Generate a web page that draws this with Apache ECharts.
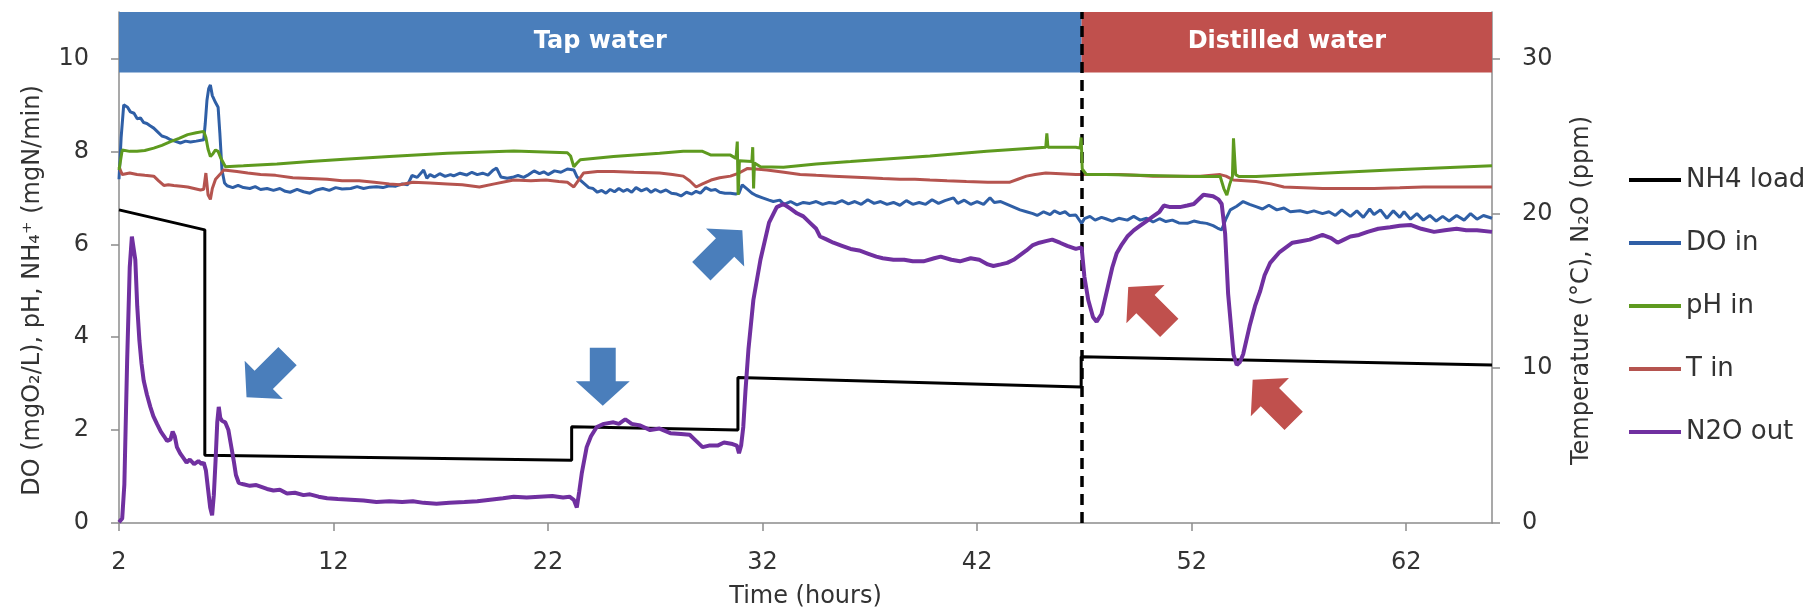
<!DOCTYPE html>
<html>
<head>
<meta charset="utf-8">
<script src="https://cdn.jsdelivr.net/npm/echarts@6/dist/echarts.min.js"></script>
<style>
html,body{margin:0;padding:0;background:#fff;}
#chart{width:1805px;height:611px;}
</style>
</head>
<body>
<div id="chart"></div>
<script>
// ---------- data ----------
const xTicks = [2, 12, 22, 32, 42, 52, 62];
const leftTicks = [0, 2, 4, 6, 8, 10];
const rightTicks = [0, 10, 20, 30];

const nh4Load = [[2,6.74],[6.0,6.31],[6.0,1.46],[23.1,1.35],[23.1,2.07],[30.85,2.0],[30.85,3.13],[46.85,2.93],[46.85,3.58],[66,3.40]];

const doIn = [[2.0,7.4],[2.1,8.3],[2.22,9.0],[2.4,8.95],[2.53,8.85],[2.7,8.82],[2.85,8.7],[3.0,8.72],[3.15,8.62],[3.3,8.6],[3.45,8.55],[3.62,8.5],[3.8,8.42],[4.0,8.33],[4.2,8.3],[4.4,8.25],[4.6,8.22],[4.86,8.18],[5.1,8.22],[5.33,8.2],[5.6,8.22],[5.95,8.25],[6.02,8.6],[6.1,9.1],[6.18,9.35],[6.26,9.43],[6.35,9.2],[6.5,9.05],[6.62,8.95],[6.7,8.4],[6.8,7.6],[6.92,7.32],[7.04,7.26],[7.3,7.22],[7.55,7.27],[7.8,7.22],[8.1,7.2],[8.35,7.24],[8.6,7.18],[8.9,7.2],[9.2,7.16],[9.5,7.2],[9.75,7.14],[9.98,7.12],[10.3,7.18],[10.6,7.13],[10.9,7.1],[11.2,7.17],[11.5,7.2],[11.8,7.16],[12.1,7.22],[12.4,7.19],[12.8,7.2],[13.1,7.24],[13.4,7.2],[13.7,7.23],[14.0,7.24],[14.3,7.22],[14.6,7.26],[14.9,7.25],[15.2,7.3],[15.45,7.28],[15.66,7.48],[15.9,7.44],[16.2,7.6],[16.35,7.42],[16.5,7.5],[16.7,7.45],[16.95,7.52],[17.2,7.46],[17.45,7.5],[17.6,7.47],[17.9,7.53],[18.2,7.49],[18.45,7.55],[18.7,7.5],[18.95,7.53],[19.2,7.49],[19.45,7.6],[19.6,7.64],[19.8,7.45],[20.1,7.42],[20.4,7.45],[20.6,7.48],[20.86,7.44],[21.1,7.5],[21.35,7.58],[21.6,7.52],[21.8,7.56],[22.0,7.5],[22.3,7.58],[22.6,7.55],[22.9,7.62],[23.2,7.6],[23.35,7.45],[23.5,7.38],[23.7,7.3],[23.9,7.22],[24.1,7.2],[24.3,7.12],[24.5,7.16],[24.7,7.1],[24.9,7.18],[25.1,7.13],[25.3,7.2],[25.5,7.14],[25.7,7.18],[25.9,7.12],[26.1,7.22],[26.35,7.15],[26.6,7.2],[26.8,7.12],[27.0,7.18],[27.25,7.12],[27.5,7.17],[27.75,7.1],[28.0,7.08],[28.2,7.04],[28.45,7.12],[28.7,7.08],[28.9,7.14],[29.1,7.1],[29.35,7.22],[29.6,7.16],[29.8,7.18],[30.0,7.12],[30.25,7.1],[30.5,7.1],[30.75,7.08],[30.9,7.1],[31.05,7.28],[31.3,7.18],[31.5,7.1],[31.7,7.05],[32.0,7.0],[32.3,6.95],[32.5,6.92],[32.8,6.95],[33.0,6.86],[33.3,6.92],[33.6,6.85],[33.9,6.9],[34.2,6.88],[34.5,6.92],[34.8,6.86],[35.1,6.9],[35.4,6.88],[35.7,6.94],[36.0,6.87],[36.3,6.92],[36.6,6.86],[36.9,6.96],[37.2,6.88],[37.5,6.92],[37.8,6.86],[38.1,6.9],[38.4,6.84],[38.7,6.94],[39.0,6.86],[39.3,6.9],[39.6,6.86],[39.9,6.96],[40.2,6.88],[40.5,6.94],[40.9,7.0],[41.1,6.88],[41.4,6.95],[41.7,6.86],[42.0,6.92],[42.3,6.86],[42.6,7.0],[42.8,6.9],[43.1,6.92],[43.4,6.86],[43.7,6.8],[44.0,6.74],[44.3,6.7],[44.6,6.66],[44.8,6.62],[45.1,6.7],[45.4,6.64],[45.6,6.72],[45.86,6.66],[46.1,6.7],[46.3,6.62],[46.6,6.63],[46.87,6.45],[47.0,6.55],[47.26,6.6],[47.5,6.52],[47.8,6.58],[48.0,6.55],[48.3,6.5],[48.6,6.56],[49.0,6.52],[49.3,6.6],[49.6,6.52],[49.9,6.56],[50.2,6.48],[50.5,6.55],[50.8,6.49],[51.1,6.52],[51.4,6.46],[51.8,6.45],[52.1,6.5],[52.4,6.47],[52.7,6.45],[53.0,6.4],[53.2,6.35],[53.4,6.31],[53.6,6.55],[53.8,6.74],[54.1,6.82],[54.4,6.92],[54.7,6.86],[55.0,6.81],[55.3,6.76],[55.6,6.84],[55.97,6.74],[56.3,6.78],[56.6,6.7],[57.05,6.72],[57.4,6.68],[57.7,6.72],[58.1,6.66],[58.4,6.7],[58.7,6.62],[59.0,6.74],[59.4,6.6],[59.7,6.72],[60.0,6.58],[60.3,6.76],[60.5,6.64],[60.8,6.74],[61.1,6.56],[61.4,6.72],[61.7,6.58],[61.9,6.7],[62.2,6.54],[62.5,6.66],[62.8,6.52],[63.1,6.62],[63.4,6.5],[63.7,6.6],[64.0,6.5],[64.35,6.62],[64.7,6.52],[65.0,6.66],[65.3,6.54],[65.6,6.62],[66.0,6.56]];

const phIn = [[2.0,7.6],[2.15,8.03],[2.5,8.0],[2.84,8.0],[3.2,8.02],[3.62,8.07],[4.0,8.13],[4.4,8.21],[4.8,8.28],[5.2,8.36],[5.6,8.4],[5.95,8.43],[6.05,8.3],[6.15,8.05],[6.26,7.89],[6.38,7.95],[6.5,8.03],[6.62,8.0],[6.75,7.85],[6.96,7.67],[7.8,7.69],[9.36,7.73],[10.9,7.78],[12.5,7.83],[14.6,7.89],[17.3,7.96],[20.4,8.01],[22.9,7.97],[23.05,7.9],[23.2,7.67],[23.35,7.75],[23.5,7.82],[25.05,7.89],[27.2,7.96],[28.3,8.0],[29.2,8.0],[29.6,7.92],[30.5,7.92],[30.76,7.85],[30.82,8.21],[30.86,7.06],[30.92,7.8],[31.5,7.78],[31.54,8.09],[31.58,7.2],[31.62,7.75],[31.9,7.67],[32.97,7.66],[34.5,7.73],[36.1,7.78],[37.6,7.83],[39.8,7.9],[42.45,8.0],[45.2,8.09],[45.25,8.39],[45.3,8.09],[46.6,8.09],[46.8,8.07],[46.85,8.3],[46.9,7.62],[47.1,7.5],[48.0,7.5],[50.0,7.48],[51.93,7.46],[53.33,7.46],[53.5,7.2],[53.64,7.06],[53.78,7.3],[53.9,7.46],[53.95,8.28],[54.05,7.5],[54.2,7.46],[55.0,7.46],[58.1,7.53],[61.25,7.6],[66.0,7.69]];

const tIn = [[2.0,23.0],[2.15,22.5],[2.5,22.6],[2.84,22.5],[3.2,22.45],[3.62,22.4],[3.85,22.1],[4.09,21.8],[4.3,21.85],[4.55,21.8],[4.9,21.75],[5.2,21.7],[5.5,21.6],[5.8,21.5],[5.95,21.55],[6.05,22.6],[6.15,21.2],[6.26,20.9],[6.35,21.6],[6.5,22.2],[6.7,22.5],[6.88,22.8],[7.5,22.7],[8.0,22.6],[8.6,22.5],[9.3,22.45],[10.1,22.3],[10.9,22.25],[11.7,22.2],[12.4,22.1],[13.2,22.1],[13.9,22.0],[14.6,21.9],[15.1,21.85],[15.7,22.0],[16.5,21.95],[17.3,21.9],[18.0,21.85],[18.8,21.7],[19.5,21.9],[20.4,22.15],[21.2,22.1],[21.9,22.15],[22.5,22.05],[22.9,22.0],[23.2,21.7],[23.4,22.1],[23.65,22.6],[24.3,22.7],[25.05,22.7],[26.0,22.65],[27.2,22.6],[27.8,22.5],[28.3,22.4],[28.6,22.1],[28.9,21.7],[29.2,21.9],[29.6,22.15],[30.0,22.3],[30.5,22.4],[30.9,22.6],[31.3,22.9],[31.8,22.85],[32.2,22.8],[33.0,22.65],[33.75,22.5],[34.5,22.45],[35.3,22.4],[36.1,22.35],[36.9,22.3],[37.6,22.25],[38.4,22.2],[39.1,22.2],[39.8,22.15],[40.6,22.1],[41.5,22.05],[42.5,22.0],[43.5,22.0],[43.9,22.2],[44.3,22.4],[44.7,22.5],[45.2,22.6],[45.9,22.55],[46.6,22.5],[47.5,22.5],[48.6,22.5],[49.4,22.45],[50.2,22.4],[51.3,22.4],[52.4,22.4],[53.33,22.5],[53.6,22.4],[53.95,22.15],[55.0,22.05],[55.7,21.9],[56.3,21.7],[57.2,21.65],[58.1,21.6],[59.3,21.6],[60.5,21.6],[61.7,21.65],[62.8,21.7],[64.4,21.7],[66.0,21.7]];

const n2oOut = [[2.0,0.05],[2.15,0.3],[2.25,2.5],[2.38,10.5],[2.5,16.5],[2.6,18.5],[2.68,18.6],[2.76,17.0],[2.85,14.0],[2.95,11.8],[3.05,10.3],[3.15,9.2],[3.3,8.3],[3.46,7.5],[3.6,6.9],[3.77,6.4],[3.95,5.9],[4.1,5.6],[4.24,5.3],[4.4,5.4],[4.5,5.9],[4.6,5.6],[4.7,4.9],[4.85,4.5],[5.0,4.2],[5.15,3.9],[5.3,4.1],[5.5,3.8],[5.7,4.0],[5.85,3.8],[5.95,3.9],[6.05,3.4],[6.15,2.2],[6.25,1.0],[6.34,0.5],[6.42,1.8],[6.5,4.0],[6.58,6.5],[6.65,7.5],[6.72,6.8],[6.8,6.6],[6.95,6.5],[7.1,6.0],[7.2,5.2],[7.35,4.0],[7.45,3.1],[7.58,2.6],[7.8,2.5],[8.1,2.4],[8.4,2.45],[8.7,2.3],[8.9,2.2],[9.2,2.1],[9.5,2.15],[9.83,1.9],[10.2,1.95],[10.6,1.8],[10.9,1.85],[11.3,1.7],[11.7,1.6],[12.2,1.55],[12.8,1.5],[13.4,1.45],[14.0,1.35],[14.6,1.4],[15.2,1.35],[15.7,1.4],[16.2,1.3],[16.8,1.25],[17.4,1.3],[18.1,1.35],[18.7,1.4],[19.3,1.5],[19.9,1.6],[20.4,1.7],[21.0,1.65],[21.6,1.7],[22.2,1.75],[22.7,1.65],[23.0,1.7],[23.2,1.5],[23.34,1.0],[23.45,2.0],[23.57,3.2],[23.8,4.9],[24.0,5.6],[24.27,6.2],[24.6,6.4],[25.05,6.5],[25.3,6.4],[25.6,6.7],[25.9,6.4],[26.3,6.3],[26.76,6.0],[27.2,6.1],[27.7,5.8],[28.2,5.75],[28.6,5.7],[28.9,5.3],[29.2,4.9],[29.5,5.0],[29.9,5.0],[30.2,5.2],[30.6,5.1],[30.8,5.0],[30.9,4.5],[31.0,5.0],[31.1,6.2],[31.2,8.5],[31.34,11.2],[31.57,14.4],[31.9,17.0],[32.3,19.4],[32.66,20.4],[32.97,20.6],[33.3,20.3],[33.6,20.0],[33.9,19.8],[34.2,19.4],[34.5,19.0],[34.68,18.5],[35.0,18.3],[35.3,18.1],[35.7,17.9],[36.1,17.7],[36.5,17.6],[36.9,17.4],[37.3,17.2],[37.6,17.1],[38.1,17.0],[38.6,17.0],[39.0,16.9],[39.5,16.9],[40.0,17.1],[40.3,17.2],[40.8,17.0],[41.2,16.9],[41.7,17.1],[42.1,17.0],[42.5,16.7],[42.76,16.6],[43.1,16.7],[43.4,16.8],[43.7,17.0],[44.0,17.3],[44.3,17.6],[44.6,17.95],[44.9,18.1],[45.2,18.2],[45.5,18.3],[45.86,18.1],[46.2,17.9],[46.6,17.7],[46.87,17.8],[47.0,15.9],[47.18,14.4],[47.4,13.3],[47.57,13.0],[47.8,13.5],[48.1,15.3],[48.3,16.5],[48.5,17.4],[48.75,18.0],[49.0,18.5],[49.3,18.9],[49.6,19.2],[49.9,19.5],[50.2,19.8],[50.5,20.1],[50.7,20.5],[51.0,20.4],[51.45,20.4],[51.8,20.5],[52.1,20.6],[52.55,21.2],[53.0,21.1],[53.25,20.9],[53.4,20.6],[53.56,18.7],[53.7,14.8],[53.95,10.9],[54.1,10.2],[54.25,10.4],[54.4,10.9],[54.7,12.7],[54.95,14.0],[55.2,15.0],[55.4,16.0],[55.66,16.8],[56.1,17.5],[56.4,17.8],[56.7,18.1],[57.1,18.2],[57.5,18.3],[58.1,18.6],[58.5,18.4],[58.8,18.1],[59.1,18.3],[59.4,18.5],[59.8,18.6],[60.2,18.8],[60.7,19.0],[61.25,19.1],[61.7,19.2],[62.2,19.25],[62.7,19.0],[63.3,18.8],[63.8,18.9],[64.35,19.0],[64.8,18.9],[65.3,18.9],[66.0,18.8]];

// phases (time span of each water type) and annotation arrows (data coords, left axis)
const phases = [
  {name: 'Tap water', from: 2, to: 46.87},
  {name: 'Distilled water', from: 46.87, to: 66}
];
const switchTime = 46.87;
const arrows = [
  {x: 8.9,  y: 3.15, dir: 'sw', kind: 'tap'},
  {x: 24.55, y: 3.15, dir: 's', kind: 'tap'},
  {x: 30.1, y: 5.86, dir: 'ne', kind: 'tap'},
  {x: 50.0, y: 4.64, dir: 'nw', kind: 'dist'},
  {x: 55.8, y: 2.64, dir: 'nw', kind: 'dist'}
];

// ---------- styles ----------
const FONT = 'DejaVu Sans';
const TEXT = '#333333';
const AXIS = '#8c8c8c';
const BLUE_BAND = '#4a7ebb';
const RED_BAND = '#c0504d';
const phaseColor = {'Tap water': BLUE_BAND, 'Distilled water': RED_BAND};
const kindColor = {tap: BLUE_BAND, dist: RED_BAND};
const rot = {s: 180, sw: 135, ne: -45, nw: 45};
const ARROW = 'path://M50,0 L100,42 L74,42 L74,100 L26,100 L26,42 L0,42 Z';

const chart = echarts.init(document.getElementById('chart'), null, {renderer: 'canvas'});

const option = {
  animation: false,
  backgroundColor: '#ffffff',
  textStyle: {fontFamily: FONT},
  grid: {left: 119, right: 313, top: 12, bottom: 88, containLabel: false, outerBoundsMode: 'none'},
  legend: {
    orient: 'vertical',
    left: 1624,
    top: 162,
    icon: 'rect',
    itemWidth: 52,
    itemHeight: 4,
    itemGap: 37,
    textStyle: {fontFamily: FONT, fontSize: 26, color: TEXT, lineHeight: 26},
    data: ['NH4 load', 'DO in', 'pH in', 'T in', 'N2O out']
  },
  xAxis: {
    type: 'value',
    min: 2, max: 66,
    name: 'Time (hours)',
    nameLocation: 'middle',
    nameGap: 62,
    nameTextStyle: {fontFamily: FONT, fontSize: 24, color: TEXT},
    axisLine: {show: true, onZero: false, lineStyle: {color: AXIS, width: 1.5}},
    axisTick: {show: true, length: 8, lineStyle: {color: AXIS, width: 1.5}, customValues: xTicks},
    axisLabel: {fontFamily: FONT, fontSize: 24, color: TEXT, margin: 28, customValues: xTicks},
    splitLine: {show: false}
  },
  yAxis: [
    {
      type: 'value', min: 0, max: 11, position: 'left',
      name: 'DO (mgO\u2082/L), pH, NH\u2084\u207A (mgN/min)',
      nameLocation: 'middle', nameGap: 74,
      nameTextStyle: {fontFamily: FONT, fontSize: 24, color: TEXT, padding: [0, 46, 0, 0]},
      axisLine: {show: true, lineStyle: {color: AXIS, width: 1.5}},
      axisTick: {show: true, length: 8, lineStyle: {color: AXIS, width: 1.5}, customValues: leftTicks},
      axisLabel: {fontFamily: FONT, fontSize: 24, color: TEXT, margin: 30, customValues: leftTicks},
      splitLine: {show: false}
    },
    {
      type: 'value', min: 0, max: 33, position: 'right',
      name: 'Temperature (\u00B0C), N\u2082O (ppm)',
      nameLocation: 'middle', nameGap: 78,
      nameTextStyle: {fontFamily: FONT, fontSize: 24, color: TEXT, padding: [0, 46, 0, 0]},
      axisLine: {show: true, lineStyle: {color: AXIS, width: 1.5}},
      axisTick: {show: true, length: 8, lineStyle: {color: AXIS, width: 1.5}, customValues: rightTicks},
      axisLabel: {fontFamily: FONT, fontSize: 24, color: TEXT, margin: 30, customValues: rightTicks},
      splitLine: {show: false}
    }
  ],
  series: [
    {
      name: 'NH4 load', type: 'line', yAxisIndex: 0, data: nh4Load,
      symbol: 'none', color: '#000000', lineStyle: {width: 3, color: '#000000'}, z: 3,
      markArea: {
        silent: true,
        label: {show: true, position: 'inside', color: '#ffffff', fontFamily: FONT, fontWeight: 'bold', fontSize: 24},
        data: phases.map(p => [
          {name: p.name, xAxis: p.from, yAxis: 9.7, itemStyle: {color: phaseColor[p.name]}},
          {xAxis: p.to, yAxis: 11}
        ])
      },
      markLine: {
        silent: true, symbol: ['none', 'none'], label: {show: false},
        lineStyle: {color: '#000000', width: 3.5, type: [11, 7]},
        data: [{xAxis: switchTime}]
      }
    },
    {
      name: 'DO in', type: 'line', yAxisIndex: 0, data: doIn,
      symbol: 'none', color: '#2f5fa6', lineStyle: {width: 3, color: '#2f5fa6'}, z: 4,
      markPoint: {
        silent: true, label: {show: false},
        data: arrows.map(a => ({
          coord: [a.x, a.y],
          symbol: ARROW,
          symbolSize: [54, 58],
          symbolRotate: rot[a.dir],
          itemStyle: {color: kindColor[a.kind]}
        }))
      }
    },
    {
      name: 'pH in', type: 'line', yAxisIndex: 0, data: phIn,
      symbol: 'none', color: '#5e9a1f', lineStyle: {width: 3, color: '#5e9a1f'}, z: 5
    },
    {
      name: 'T in', type: 'line', yAxisIndex: 1, data: tIn,
      symbol: 'none', color: '#b5544f', lineStyle: {width: 3, color: '#b5544f'}, z: 4
    },
    {
      name: 'N2O out', type: 'line', yAxisIndex: 1, data: n2oOut,
      symbol: 'none', color: '#7030a0', lineStyle: {width: 4, color: '#7030a0'}, z: 6
    }
  ]
};
chart.setOption(option);
</script>
</body>
</html>
